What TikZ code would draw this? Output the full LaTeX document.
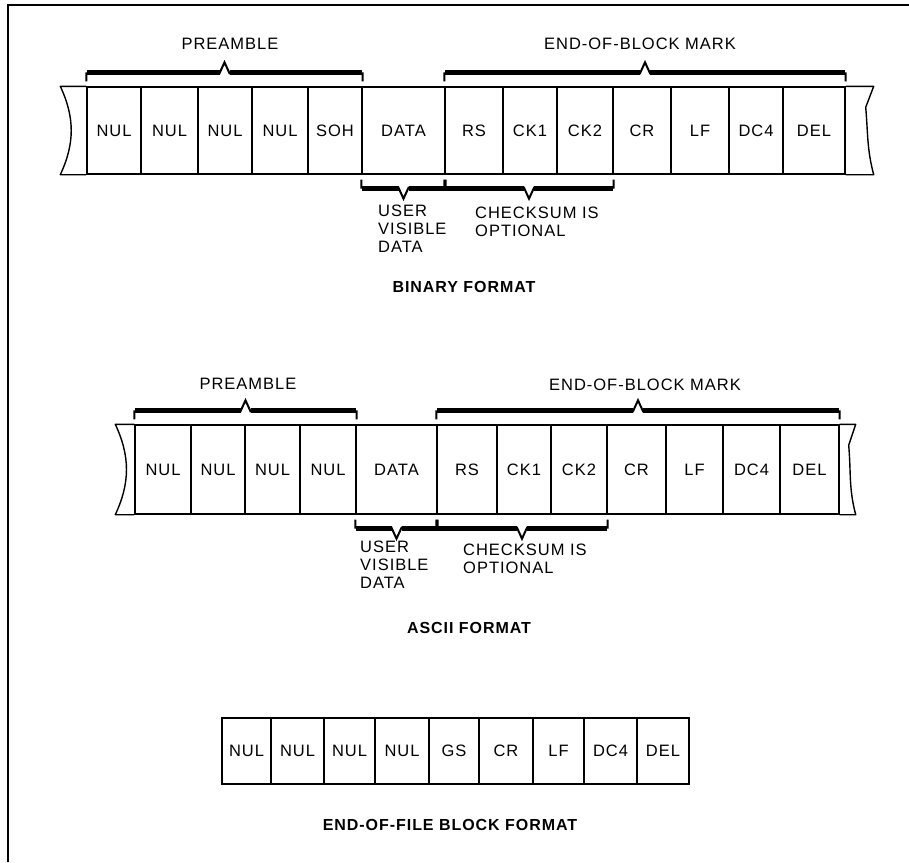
\documentclass[tikz,border=0pt]{standalone}
\usepackage{fontspec}
\usepackage{tikz}
\usetikzlibrary{calc}
\newfontfamily\hpfont[LetterSpace=6]{Liberation Sans}

\tikzset{
  cell/.style={draw, line width=1.4pt, inner sep=0pt, minimum height=#1,
    font=\hpfont\fontsize{16.5}{18}\selectfont},
  tape/.style={line width=1.4pt, line join=round},
  lab/.style={inner sep=0pt, font=\hpfont\fontsize{16.5}{18}\selectfont},
  note/.style={lab, anchor=north west, align=left},
  title/.style={inner sep=0pt, font=\hpfont\bfseries\fontsize{16}{18}\selectfont},
}

% brace over (#3=1) or under (#3=-1) the tape, from #1 to #2
\newcommand\tapebrace[3]{%
  \draw[line width=2pt, line join=miter] let \p1=(#1), \p2=(#2) in
    (\x1,{\y1+(#3)*5pt}) -- (\x1,{\y1+(#3)*13pt})
    -- ({(\x1+\x2)/2-5pt},{\y1+(#3)*13pt}) -- ({(\x1+\x2)/2},{\y1+(#3)*24pt})
    -- ({(\x1+\x2)/2+5pt},{\y1+(#3)*13pt}) -- (\x2,{\y1+(#3)*13pt})
    -- (\x2,{\y1+(#3)*5pt});
  \draw[line width=4.5pt] let \p1=(#1), \p2=(#2) in
    ({\x1+1pt},{\y1+(#3)*14pt}) -- ({(\x1+\x2)/2-5pt},{\y1+(#3)*14pt})
    ({(\x1+\x2)/2+5pt},{\y1+(#3)*14pt}) -- ({\x2-1pt},{\y1+(#3)*14pt});
}

\begin{document}
\begin{tikzpicture}[x=1pt, y=-1pt]
    \useasboundingbox (0,0) rectangle (909,862);
    \draw[line width=2pt] (8,862) -- (8,5) -- (909,5);

    % binary format
    \foreach \l/\r/\t [count=\i] in {87/141/NUL, 141/198/NUL, 198/252/NUL,
        252/308/NUL, 308/362/SOH, 362/445/DATA, 445/503/RS, 503/557/CK1,
        557/613/CK2, 613/671/CR, 671/729/LF, 729/783/DC4, 783/845/DEL}
      \node[cell=87pt, minimum width={(\r-\l)*1pt}] (b\i) at ({(\l+\r)/2},130.5) {\t};
    \draw[tape] (b1.north west) -- ++(-26,0) to[out=-65,in=65]
      ($(b1.south west)+(-26,0)$) -- (b1.south west);
    \draw[tape] (b13.north east) -- ++(28,0) -- ++(-8,21) to[out=-85,in=105]
      ($(b13.south east)+(28,0)$) -- (b13.south east);
    \tapebrace{b1.north west}{b5.north east}{1}
    \tapebrace{b7.north west}{b13.north east}{1}
    \tapebrace{b6.south west}{b6.south east}{-1}
    \tapebrace{b7.south west}{b9.south east}{-1}
    \node[lab] (bpre) at (230,44) {PREAMBLE};
    \node[lab] (beob) at (640,44) {END-OF-BLOCK MARK};
    \node[note] (buser) at (378,205) {USER\\VISIBLE\\DATA};
    \node[note] (bsum) at (475,207) {CHECKSUM IS\\OPTIONAL};
    \node[title] (btitle) at (464,287) {BINARY FORMAT};

    % ascii format
    \foreach \l/\r/\t [count=\i] in {135/191/NUL, 191/245/NUL, 245/300/NUL,
        300/356/NUL, 356/437/DATA, 437/497/RS, 497/551/CK1, 551/607/CK2,
        607/666/CR, 666/723/LF, 723/780/DC4, 780/839/DEL}
      \node[cell=89pt, minimum width={(\r-\l)*1pt}] (a\i) at ({(\l+\r)/2},469.5) {\t};
    \draw[tape] (a1.north west) -- ++(-19,0) to[out=-65,in=65]
      ($(a1.south west)+(-19,0)$) -- (a1.south west);
    \draw[tape] (a12.north east) -- ++(16,0) -- ++(-7,21) to[out=-85,in=105]
      ($(a12.south east)+(16,0)$) -- (a12.south east);
    \tapebrace{a1.north west}{a4.north east}{1}
    \tapebrace{a6.north west}{a12.north east}{1}
    \tapebrace{a5.south west}{a5.south east}{-1}
    \tapebrace{a6.south west}{a8.south east}{-1}
    \node[lab] (apre) at (248,384) {PREAMBLE};
    \node[lab] (aeob) at (645,385) {END-OF-BLOCK MARK};
    \node[note] (auser) at (360,541) {USER\\VISIBLE\\DATA};
    \node[note] (asum) at (463,544) {CHECKSUM IS\\OPTIONAL};
    \node[title] (atitle) at (469,628) {ASCII FORMAT};

    % end-of-file block
    \foreach \l/\r/\t [count=\i] in {222/271/NUL, 271/324/NUL, 324/375/NUL,
        375/429/NUL, 429/479/GS, 479/533/CR, 533/584/LF, 584/637/DC4, 637/689/DEL}
      \node[cell=66pt, minimum width={(\r-\l)*1pt}] (e\i) at ({(\l+\r)/2},751) {\t};
    \node[title] (etitle) at (450,825) {END-OF-FILE BLOCK FORMAT};
\end{tikzpicture}
\end{document}
